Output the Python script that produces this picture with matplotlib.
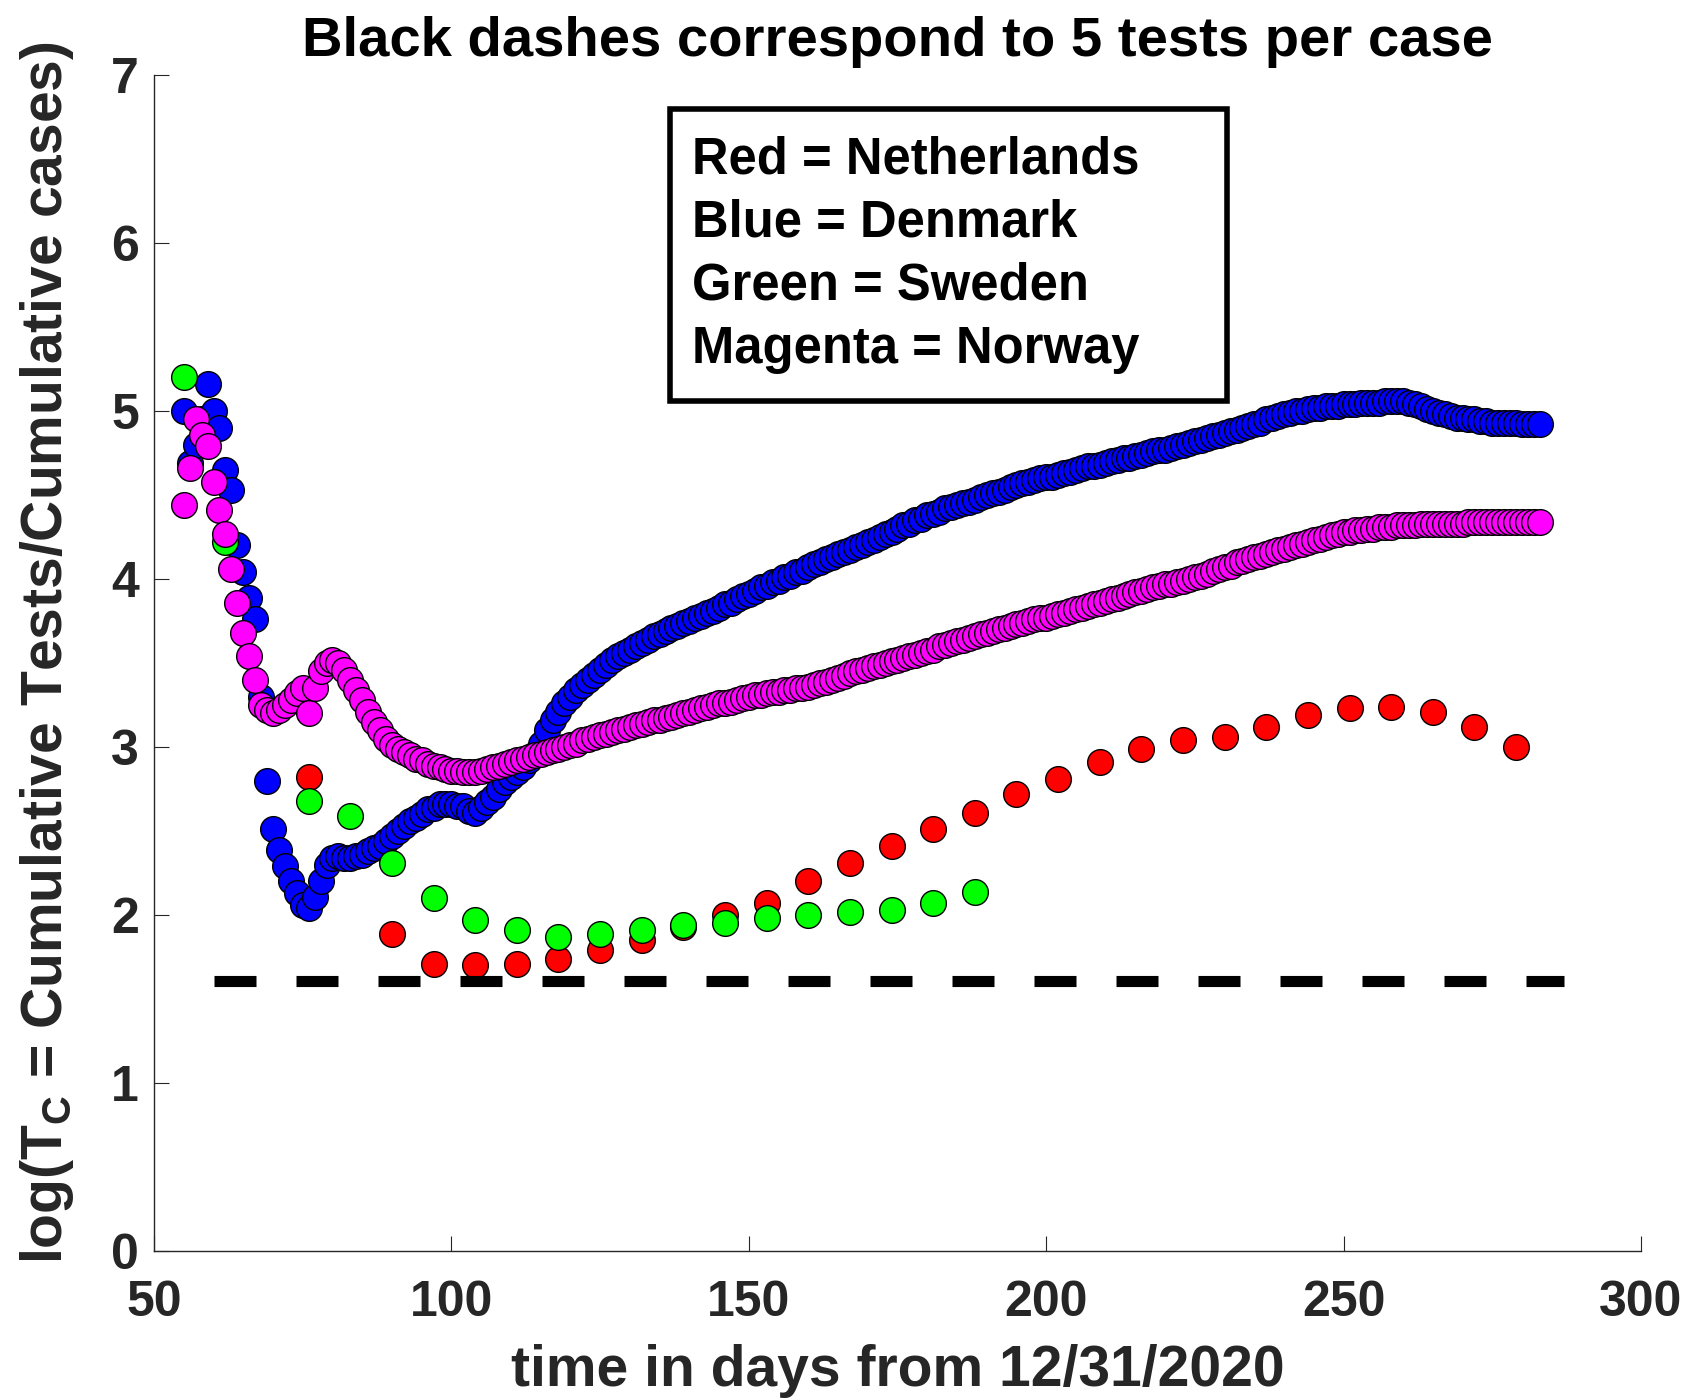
import numpy as np
import matplotlib
matplotlib.use('Agg')
from matplotlib import pyplot as plt
from matplotlib.patches import Rectangle

# Netherlands (red), weekly
red_days = [76, 90, 97, 104, 111, 118, 125, 132, 139, 146, 153, 160, 167, 174, 181,
            188, 195, 202, 209, 216, 223, 230, 237, 244, 251, 258, 265, 272, 279]
red_vals = [2.82, 1.89, 1.71, 1.70, 1.71, 1.74, 1.79, 1.85, 1.93, 2.00, 2.07, 2.20, 2.31, 2.41, 2.51,
            2.61, 2.72, 2.81, 2.91, 2.99, 3.04, 3.06, 3.12, 3.19, 3.23, 3.24, 3.21, 3.12, 3.00]

# Sweden (green), weekly
green_days = [55, 62, 76, 83, 90, 97, 104, 111, 118, 125, 132, 139, 146, 153, 160, 167, 174, 181, 188]
green_vals = [5.20, 4.22, 2.68, 2.59, 2.31, 2.10, 1.97, 1.91, 1.87, 1.89, 1.91, 1.94, 1.95, 1.98,
              2.00, 2.02, 2.03, 2.07, 2.14]

# Denmark (blue), daily from day 55 to 283
blue_days = list(range(55, 284))
blue_vals = [
    5.00, 4.69, 4.80, 4.95, 5.16, 5.00, 4.90, 4.65, 4.53, 4.20,   # 55-64
    4.04, 3.89, 3.76, 3.30, 2.80, 2.51, 2.39, 2.29, 2.20, 2.13,   # 65-74
    2.06, 2.04, 2.11, 2.20, 2.30, 2.34, 2.35, 2.34, 2.34, 2.35,   # 75-84
    2.36, 2.38, 2.40, 2.41, 2.44, 2.47, 2.50, 2.53, 2.56, 2.58,   # 85-94
    2.60, 2.63, 2.64, 2.66, 2.66, 2.66, 2.65, 2.65, 2.62, 2.61,   # 95-104
    2.64, 2.67, 2.70, 2.75, 2.79, 2.82, 2.85, 2.88, 2.92, 2.96,   # 105-114
    3.02, 3.10, 3.16, 3.21, 3.26, 3.30, 3.34, 3.37, 3.40, 3.43,   # 115-124
    3.46, 3.49, 3.52, 3.54, 3.56, 3.58, 3.60, 3.62, 3.64, 3.66,   # 125-134
    3.67, 3.69, 3.71, 3.72, 3.74, 3.75, 3.77, 3.78, 3.80, 3.81,   # 135-144
    3.83, 3.85, 3.86, 3.88, 3.90, 3.91, 3.93, 3.95, 3.96, 3.98,   # 145-154
    3.99, 4.01, 4.02, 4.04, 4.05, 4.07, 4.09, 4.10, 4.12, 4.13,   # 155-164
    4.15, 4.16, 4.17, 4.19, 4.20, 4.22, 4.23, 4.25, 4.27, 4.28,   # 165-174
    4.30, 4.32, 4.33, 4.35, 4.36, 4.38, 4.39, 4.40, 4.42, 4.43,   # 175-184
    4.44, 4.45, 4.46, 4.47, 4.49, 4.50, 4.51, 4.52, 4.53, 4.55,   # 185-194
    4.56, 4.57, 4.58, 4.59, 4.60, 4.61, 4.61, 4.62, 4.63, 4.64,   # 195-204
    4.65, 4.66, 4.67, 4.67, 4.68, 4.69, 4.70, 4.71, 4.72, 4.72,   # 205-214
    4.73, 4.74, 4.75, 4.76, 4.77, 4.77, 4.78, 4.79, 4.80, 4.81,   # 215-224
    4.82, 4.83, 4.84, 4.85, 4.86, 4.87, 4.88, 4.89, 4.90, 4.91,   # 225-234
    4.92, 4.93, 4.95, 4.96, 4.97, 4.98, 4.99, 5.00, 5.00, 5.01,   # 235-244
    5.02, 5.02, 5.03, 5.03, 5.03, 5.04, 5.04, 5.04, 5.05, 5.05,   # 245-254
    5.05, 5.05, 5.06, 5.06, 5.06, 5.06, 5.05, 5.04, 5.03, 5.01,   # 255-264
    5.00, 4.99, 4.98, 4.97, 4.96, 4.96, 4.95, 4.95, 4.94, 4.94,   # 265-274
    4.93, 4.93, 4.93, 4.93, 4.93, 4.92, 4.92, 4.92, 4.92,         # 275-283
]

# Norway (magenta), daily from day 55 to 283
magenta_days = list(range(55, 284))
magenta_vals = [
    4.44, 4.66, 4.95, 4.86, 4.79, 4.58, 4.41, 4.27, 4.06, 3.86,   # 55-64
    3.68, 3.54, 3.40, 3.25, 3.22, 3.20, 3.22, 3.25, 3.28, 3.32,   # 65-74
    3.35, 3.20, 3.35, 3.45, 3.50, 3.52, 3.50, 3.46, 3.40, 3.34,   # 75-84
    3.28, 3.21, 3.15, 3.10, 3.05, 3.01, 2.99, 2.97, 2.95, 2.93,   # 85-94
    2.92, 2.90, 2.89, 2.88, 2.87, 2.86, 2.86, 2.85, 2.85, 2.85,   # 95-104
    2.86, 2.87, 2.88, 2.89, 2.90, 2.91, 2.92, 2.93, 2.94, 2.95,   # 105-114
    2.96, 2.97, 2.98, 2.99, 3.00, 3.01, 3.02, 3.04, 3.05, 3.06,   # 115-124
    3.07, 3.08, 3.09, 3.10, 3.11, 3.12, 3.13, 3.14, 3.15, 3.16,   # 125-134
    3.16, 3.17, 3.18, 3.19, 3.20, 3.21, 3.22, 3.23, 3.24, 3.25,   # 135-144
    3.26, 3.26, 3.27, 3.28, 3.29, 3.30, 3.31, 3.31, 3.32, 3.33,   # 145-154
    3.33, 3.34, 3.34, 3.35, 3.35, 3.36, 3.37, 3.38, 3.39, 3.40,   # 155-164
    3.41, 3.42, 3.44, 3.45, 3.46, 3.47, 3.48, 3.49, 3.50, 3.51,   # 165-174
    3.52, 3.53, 3.54, 3.55, 3.56, 3.57, 3.58, 3.60, 3.61, 3.62,   # 175-184
    3.63, 3.64, 3.65, 3.66, 3.67, 3.68, 3.69, 3.70, 3.71, 3.72,   # 185-194
    3.73, 3.74, 3.75, 3.76, 3.77, 3.77, 3.78, 3.79, 3.80, 3.81,   # 195-204
    3.82, 3.83, 3.84, 3.85, 3.86, 3.87, 3.88, 3.89, 3.90, 3.91,   # 205-214
    3.92, 3.93, 3.94, 3.95, 3.96, 3.97, 3.97, 3.98, 3.99, 4.00,   # 215-224
    4.01, 4.02, 4.03, 4.05, 4.06, 4.07, 4.08, 4.10, 4.11, 4.12,   # 225-234
    4.13, 4.14, 4.15, 4.16, 4.17, 4.18, 4.19, 4.20, 4.21, 4.22,   # 235-244
    4.23, 4.24, 4.25, 4.26, 4.27, 4.28, 4.28, 4.29, 4.29, 4.30,   # 245-254
    4.30, 4.31, 4.31, 4.31, 4.32, 4.32, 4.32, 4.32, 4.33, 4.33,   # 255-264
    4.33, 4.33, 4.33, 4.33, 4.33, 4.33, 4.34, 4.34, 4.34, 4.34,   # 265-274
    4.34, 4.34, 4.34, 4.34, 4.34, 4.34, 4.34, 4.34, 4.34,         # 275-283
]

# reference line: 5 tests per case
tests_per_case = 5
ref_days = [60, 287]

legend_lines = ['Red = Netherlands', 'Blue = Denmark', 'Green = Sweden', 'Magenta = Norway']

gray = '#262626'
plt.rcParams['font.family'] = ['Liberation Sans', 'DejaVu Sans']
plt.rcParams['font.weight'] = 'bold'
plt.rcParams['mathtext.fontset'] = 'custom'
plt.rcParams['mathtext.rm'] = 'Liberation Sans:bold'
plt.rcParams['mathtext.bf'] = 'Liberation Sans:bold'


def tests_plot():
    fig = plt.figure(figsize=(16.91, 14.0), dpi=100)
    ax = fig.add_axes([0.0911, 0.1064, 0.8793, 0.84])

    mk = dict(linestyle='none', marker='o', markersize=18.5, markeredgecolor='k', markeredgewidth=1.0)
    ax.plot(red_days, red_vals, markerfacecolor=(1, 0, 0), zorder=2, **mk)
    ax.plot(blue_days, blue_vals, markerfacecolor=(0, 0, 1), zorder=3, **mk)
    ax.plot(green_days, green_vals, markerfacecolor=(0, 1, 0), zorder=4, **mk)
    ax.plot(magenta_days, magenta_vals, markerfacecolor=(1, 0, 1), zorder=5, **mk)

    ref = np.log(tests_per_case)
    ax.plot(ref_days, [ref, ref], color='k', linewidth=8, linestyle=(0, (3.78, 3.6)),
            dash_capstyle='butt', zorder=6)

    ax.set_xlim(50, 300)
    ax.set_ylim(0, 7)
    ax.set_xticks(range(50, 301, 50))
    ax.set_yticks(range(0, 8))
    for s in ['top', 'right']:
        ax.spines[s].set_visible(False)
    for s in ['left', 'bottom']:
        ax.spines[s].set_color(gray)
        ax.spines[s].set_linewidth(1.0)
    ax.tick_params(direction='in', length=10.5, width=0.8, color=gray, labelcolor=gray,
                   labelsize=36)
    ax.tick_params(axis='x', pad=21)
    ax.tick_params(axis='y', pad=11)

    ax.set_title('Black dashes correspond to 5 tests per case', fontsize=40.5,
                 fontweight='bold', color='k', pad=14)
    ax.set_xlabel('time in days from 12/31/2020', fontsize=41, fontweight='bold', color=gray)
    ax.xaxis.set_label_coords(0.5, -0.079)
    ax.set_ylabel(r'log(T$_{\rm C}$ = Cumulative Tests/Cumulative cases)', fontsize=41,
                  fontweight='bold', color=gray)
    ax.yaxis.set_label_coords(-0.0525, 0.509)

    # text box with the colour key
    fig.patches.append(Rectangle((0.3962, 0.7136), 0.3294, 0.2085, transform=fig.transFigure,
                                 fill=False, edgecolor='k', linewidth=4, zorder=10))
    for i, line in enumerate(legend_lines):
        fig.text(0.409, 0.8762 - i * 0.04524, line, fontsize=36.5, fontweight='bold',
                 color='k', va='baseline', ha='left')

    fig.savefig('out.png', dpi=100)


tests_plot()
